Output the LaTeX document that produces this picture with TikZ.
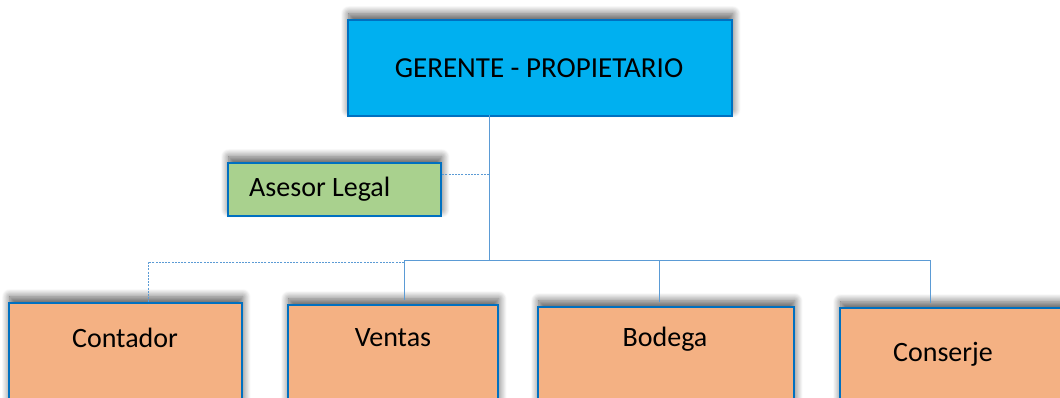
\documentclass[tikz,border=0pt]{standalone}
\usepackage{fontspec}
\setmainfont{Carlito}
\usetikzlibrary{shadows.blur}

\begin{document}
\begin{tikzpicture}[x=1pt,y=-1pt,
  box/.style={draw=org_border,line width=1.6pt,blur shadow={shadow xshift=1pt,shadow yshift=6pt,shadow blur radius=8pt,shadow blur steps=12,shadow opacity=65},inner sep=0pt,anchor=north west},
  label_txt/.style={font=\fontsize{28}{32}\selectfont,text=black,inner sep=0pt},
  link/.style={draw=org_link,line width=0.9pt},
  dlink/.style={link,dash pattern=on 2pt off 1.2pt}]

% ------------------------------------------------ org chart colors
\definecolor{org_border}{RGB}{0,112,192}   %#0070C0
\definecolor{org_link}{RGB}{91,155,213}    %#5B9BD5
\definecolor{org_top}{RGB}{0,176,240}      %#00B0F0
\definecolor{org_green}{RGB}{169,209,142}  %#A9D18E
\definecolor{org_orange}{RGB}{244,177,131} %#F4B183

\useasboundingbox (0,0) rectangle (1060,398);

% boxes
\node[box,fill=org_top,minimum width=384,minimum height=96] (ger) at (347,19) {};
\node[box,fill=org_green,minimum width=213,minimum height=53] (ases) at (227,162) {};
\node[box,fill=org_orange,minimum width=233,minimum height=130] (cont) at (8,302) {};
\node[box,fill=org_orange,minimum width=210,minimum height=130] (vent) at (287,304) {};
\node[box,fill=org_orange,minimum width=256,minimum height=130] (bod) at (537,306) {};
\node[box,fill=org_orange,minimum width=260,minimum height=130] (cons) at (839,307) {};

% texts
\node[label_txt,font=\fontsize{29}{33}\selectfont] (ger_t) at (539,68) {GERENTE - PROPIETARIO};
\node[label_txt,anchor=west] (ases_t) at (249,189) {Asesor Legal};
\node[label_txt] (cont_t) at (125,338) {Contador};
\node[label_txt] (vent_t) at (393,338) {Ventas};
\node[label_txt] (bod_t) at (665,339) {Bodega};
\node[label_txt] (cons_t) at (943,354) {Conserje};

% connectors
\coordinate (trunk) at (489,115);
\coordinate (mid) at (489,174);
\coordinate (bus) at (489,260);
\coordinate (bus_l) at (404,260);
\coordinate (bus_r) at (930,260);
\coordinate (bus_b) at (659,260);
\coordinate (bus_d) at (404,262);
\coordinate (bus_c) at (148,262);

\draw[link] (trunk) -- (bus);
\draw[link] (bus_l) -- (bus_r);
\draw[dlink] (mid) -- (mid -| ases.east);
\draw[link] (bus_l) -- ([yshift=4]bus_l |- vent.north);
\draw[link] (bus_b) -- ([yshift=4]bus_b |- bod.north);
\draw[link] (bus_r) -- ([yshift=4]bus_r |- cons.north);
\draw[dlink] (bus_d) -- (bus_c) -- (bus_c |- cont.north);

\end{tikzpicture}
\end{document}
